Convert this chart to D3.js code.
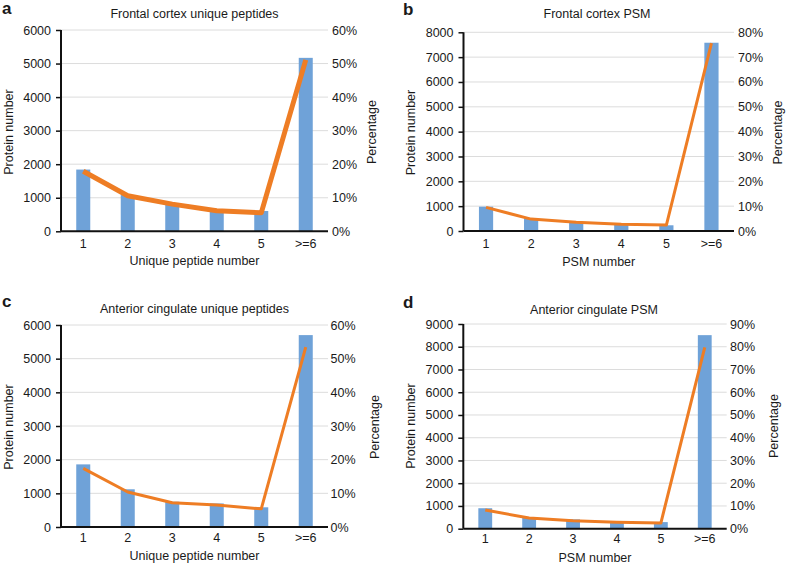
<!DOCTYPE html>
<html><head><meta charset="utf-8">
<script src="https://cdn.jsdelivr.net/npm/d3@7"></script>
<style>
body{margin:0;background:#fff;}
text{font-family:"Liberation Sans",Arial,sans-serif;fill:#1a1a1a;}
</style></head>
<body>
<svg id="chart" width="787" height="566"></svg>
<script>
const categories = ["1","2","3","4","5",">=6"];
const panelLetters = ["a","b","c","d"];
const panelTitles = ["Frontal cortex unique peptides","Frontal cortex PSM","Anterior cingulate unique peptides","Anterior cingulate PSM"];
const xTitles = ["Unique peptide number","PSM number","Unique peptide number","PSM number"];

const fcUniqueCounts = [1840,1080,810,635,605,5170];
const fcUniquePct    = [17.9,10.6,8.1,6.1,5.5,51.1];
const fcPsmCounts    = [980,510,350,290,230,7580];
const fcPsmPct       = [9.5,4.8,3.5,2.7,2.4,75.6];
const acUniqueCounts = [1860,1120,750,700,585,5700];
const acUniquePct    = [17.4,10.4,7.2,6.5,5.4,53.4];
const acPsmCounts    = [900,500,410,280,290,8510];
const acPsmPct       = [8.2,4.7,3.5,2.8,2.5,79.7];

const countMax = [6000,8000,6000,9000];
const pctMax = [60,80,60,90];

const seriesCounts = [fcUniqueCounts,fcPsmCounts,acUniqueCounts,acPsmCounts];
const seriesPct = [fcUniquePct,fcPsmPct,acUniquePct,acPsmPct];

// layout (positions only)
const layout = [
  {x0:61, x1:328, yT:30, yB:231.3, lw:5, letter:[2,13.5], title:[194.5,17.5], xtl:248.3, xtt:265, yl:13, yr:375.5, rlab:332, ycen:132},
  {x0:463.5, x1:734, yT:32.3, yB:231, lw:3, letter:[403,15], title:[597,18.3], xtl:248.3, xtt:265.7, yl:415, yr:782, rlab:738, ycen:132.5},
  {x0:61, x1:328, yT:325, yB:527, lw:3, letter:[2,306.7], title:[194.5,313.3], xtl:542, xtt:560, yl:13, yr:379, rlab:330.5, ycen:427},
  {x0:463.3, x1:726.7, yT:324, yB:528.7, lw:3, letter:[403,308.3], title:[594,314], xtl:543, xtt:561.7, yl:415, yr:777.5, rlab:730, ycen:426}
];

const svg = d3.select("#chart");
const FS = "12.5px";

layout.forEach((L,i)=>{
  const g = svg.append("g");
  const x = d3.scaleBand().domain(categories).range([L.x0,L.x1]).paddingInner(0.685).paddingOuter(0.3425);
  const y = d3.scaleLinear().domain([0,countMax[i]]).range([L.yB,L.yT]);
  const y2 = d3.scaleLinear().domain([0,pctMax[i]]).range([L.yB,L.yT]);
  const ticks = d3.range(0,countMax[i]+1,1000);

  // gridlines
  g.selectAll(".grid").data(ticks.filter(t=>t>0)).enter().append("line")
    .attr("x1",L.x0).attr("x2",L.x1).attr("y1",d=>y(d)).attr("y2",d=>y(d))
    .attr("stroke","#dcdcdc").attr("stroke-width",1);

  // bars
  g.selectAll(".bar").data(seriesCounts[i]).enter().append("rect")
    .attr("x",(d,j)=>x(categories[j])).attr("width",x.bandwidth())
    .attr("y",d=>y(d)).attr("height",d=>L.yB-y(d))
    .attr("fill","#6fa2d8");

  // line
  const line = d3.line().x((d,j)=>x(categories[j])+x.bandwidth()/2).y(d=>y2(d));
  g.append("path").datum(seriesPct[i]).attr("d",line)
    .attr("fill","none").attr("stroke","#ee7d24").attr("stroke-width",L.lw)
    .attr("stroke-linejoin","round");

  // left axis
  const ya = d3.axisLeft(y).tickValues(ticks).tickFormat(d3.format("d")).tickSize(5).tickPadding(5);
  const ag = g.append("g").attr("transform",`translate(${L.x0},0)`).call(ya);
  ag.select(".domain").attr("stroke","#111").attr("stroke-width",2).attr("d",`M0,${L.yT}V${L.yB}`);
  ag.selectAll(".tick line").attr("stroke","#111").attr("stroke-width",1.5);
  ag.selectAll("text").style("font-size",FS).attr("fill","#1a1a1a").style("font-family","Liberation Sans, Arial, sans-serif");

  // right axis labels
  const ra = d3.axisRight(y2).tickValues(d3.range(0,pctMax[i]+1,10)).tickFormat(d=>d+"%").tickSize(0).tickPadding(0);
  const rg = g.append("g").attr("transform",`translate(${L.rlab},0)`).call(ra);
  rg.select(".domain").remove();
  rg.selectAll("text").style("font-size",FS).attr("fill","#1a1a1a").style("font-family","Liberation Sans, Arial, sans-serif");

  // x axis
  const xa = d3.axisBottom(x).tickSize(0).tickPadding(0);
  const xg = g.append("g").attr("transform",`translate(0,${L.yB})`).call(xa);
  xg.select(".domain").attr("stroke","#111").attr("stroke-width",2).attr("d",`M${L.x0},0H${L.x1}`);
  xg.selectAll("text").attr("dy",null).attr("y",L.xtl-L.yB).style("font-size",FS).attr("fill","#1a1a1a").style("font-family","Liberation Sans, Arial, sans-serif");

  // texts
  g.append("text").attr("x",L.letter[0]).attr("y",L.letter[1]).text(panelLetters[i])
    .style("font-size","17px").style("font-weight","bold").style("font-family","Liberation Sans, Arial, sans-serif");
  g.append("text").attr("x",L.title[0]).attr("y",L.title[1]).attr("text-anchor","middle").text(panelTitles[i]).style("font-size",FS);
  g.append("text").attr("x",(L.x0+L.x1)/2).attr("y",L.xtt).attr("text-anchor","middle").text(xTitles[i]).style("font-size",FS);
  g.append("text").attr("transform",`translate(${L.yl},${L.ycen}) rotate(-90)`).attr("text-anchor","middle").text("Protein number").style("font-size",FS);
  g.append("text").attr("transform",`translate(${L.yr},${L.ycen}) rotate(-90)`).attr("text-anchor","middle").text("Percentage").style("font-size",FS);
});
</script>
</body></html>
